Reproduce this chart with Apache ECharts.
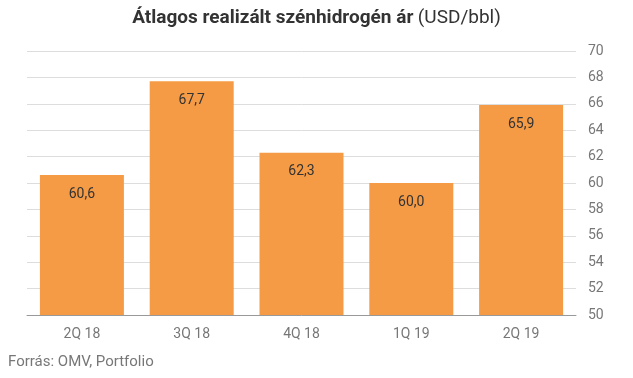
<!DOCTYPE html>
<html>
<head>
<meta charset="utf-8">
<script src="https://cdn.jsdelivr.net/npm/echarts@6/dist/echarts.min.js"></script>
<style>
  html, body { margin: 0; padding: 0; background: #fff; }
  #main { width: 633px; height: 378px; }
</style>
</head>
<body>
<div id="main"></div>
<script>
var categories = ['2Q 18', '3Q 18', '4Q 18', '1Q 19', '2Q 19'];
var prices = [60.6, 67.7, 62.3, 60.0, 65.9];

var chart = echarts.init(document.getElementById('main'));
chart.setOption({
  animation: false,
  textStyle: { fontFamily: 'Roboto' },
  title: {
    text: '{b|Átlagos realizált szénhidrogén ár} {n|(USD/bbl)}',
    left: 'center',
    top: 4,
    textStyle: {
      rich: {
        b: { fontFamily: 'Roboto', fontWeight: 'bold', fontSize: 19, color: '#333' },
        n: { fontFamily: 'Roboto', fontWeight: 'normal', fontSize: 19, color: '#333' }
      }
    }
  },
  graphic: [{
    type: 'text',
    left: 8,
    top: 355,
    style: { text: 'Forrás: OMV, Portfolio', fill: '#777', font: '15px Roboto' }
  }],
  grid: { left: 27, right: 57, top: 51, bottom: 63 },
  xAxis: {
    type: 'category',
    data: categories,
    axisTick: { show: false },
    axisLine: { lineStyle: { color: '#999' } },
    axisLabel: { color: '#777', fontSize: 14, margin: 12 }
  },
  yAxis: {
    type: 'value',
    position: 'right',
    min: 50,
    max: 70,
    interval: 2,
    axisLine: { show: false },
    axisTick: { show: false },
    axisLabel: { color: '#777', fontSize: 14, margin: 12 },
    splitLine: { lineStyle: { color: '#ddd' } }
  },
  series: [{
    type: 'bar',
    data: prices,
    barCategoryGap: '23.5%',
    itemStyle: { color: '#F59B45' },
    label: {
      show: true,
      position: 'insideTop',
      distance: 12,
      color: '#333',
      fontSize: 14,
      formatter: function (p) { return p.value.toFixed(1).replace('.', ','); }
    }
  }]
});
</script>
</body>
</html>
